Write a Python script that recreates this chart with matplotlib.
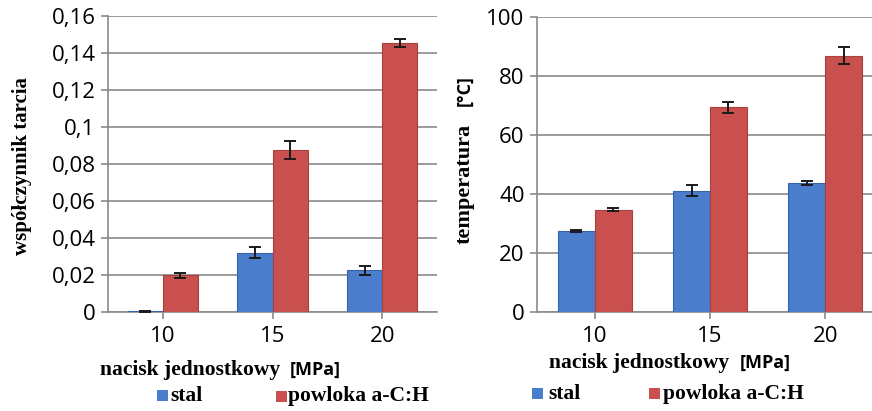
import numpy as np
import matplotlib.pyplot as plt
from matplotlib import rcParams
from matplotlib.patches import Rectangle

rcParams['font.family'] = 'Open Sans'
rcParams['xtick.labelsize'] = 16
rcParams['ytick.labelsize'] = 16

# Dane
cisnienie = ['10', '15', '20']
tarcie_stal = [0.0005, 0.032, 0.0225]
tarcie_stal_err = [0.0003, 0.003, 0.0025]
tarcie_powloka = [0.0198, 0.0875, 0.1452]
tarcie_powloka_err = [0.0015, 0.005, 0.0022]
temp_stal = [27.4, 41.1, 43.7]
temp_stal_err = [0.3, 1.9, 0.8]
temp_powloka = [34.7, 69.4, 86.9]
temp_powloka_err = [0.4, 1.8, 3.0]

BLUE = '#4a7dcc'
BLUE_EDGE = '#3763ad'
RED = '#c9504e'
RED_EDGE = '#a8403e'
GRID = '#8a8a8a'
SERIF = 'Liberation Serif'

W, H = 872, 411


def px(x):
    return x / W


def py(y):
    return 1 - y / H


def comma(v, pos):
    return ('%g' % round(v, 4)).replace('.', ',')


def draw_panel(ax, stal, stal_err, powloka, powloka_err, ymax, step):
    x = np.arange(len(cisnienie))
    w = 0.32
    err = dict(ecolor='#1a1a1a', elinewidth=1.4, capthick=1.4, zorder=4)
    ax.bar(x - w / 2, stal, w, yerr=stal_err, color=BLUE, edgecolor=BLUE_EDGE,
           linewidth=0.8, capsize=4, error_kw=err, zorder=3)
    ax.bar(x + w / 2, powloka, w, yerr=powloka_err, color=RED, edgecolor=RED_EDGE,
           linewidth=0.8, capsize=4, error_kw=err, zorder=3)
    ax.set_xlim(-0.5, len(cisnienie) - 0.5)
    ax.set_ylim(0, ymax)
    ax.set_xticks(x)
    ax.set_xticklabels(cisnienie)
    ax.set_yticks(np.arange(0, ymax + step / 2, step))
    ax.yaxis.set_major_formatter(plt.FuncFormatter(comma))
    ax.yaxis.grid(True, color=GRID, linewidth=1.2)
    ax.set_axisbelow(True)
    for s in ['top', 'right']:
        ax.spines[s].set_visible(False)
    for s in ['left', 'bottom']:
        ax.spines[s].set_color(GRID)
        ax.spines[s].set_linewidth(1.2)
    ax.tick_params(axis='y', length=5, width=1.2, color=GRID, pad=4)
    ax.tick_params(axis='x', length=5, width=1.2, color=GRID, pad=5)


fig = plt.figure(figsize=(W / 100, H / 100), dpi=100)

ax1 = fig.add_axes([px(108), py(312), (437 - 108) / W, (312 - 16) / H])
draw_panel(ax1, tarcie_stal, tarcie_stal_err, tarcie_powloka, tarcie_powloka_err,
           0.16, 0.02)

ax2 = fig.add_axes([px(537), py(312), (883 - 537) / W, (312 - 17) / H])
draw_panel(ax2, temp_stal, temp_stal_err, temp_powloka, temp_powloka_err,
           100, 20)

# opisy osi
bold_serif = dict(family=SERIF, weight='bold', size=15.5)
bold_sans = dict(family='Open Sans', weight='bold', size=13)

fig.text(px(22), py(166), 'współczynnik tarcia', rotation=90,
         ha='center', va='center', family=SERIF, weight='bold', size=15)
fig.text(px(465), py(184), 'temperatura', rotation=90,
         ha='center', va='center', family=SERIF, weight='bold', size=16)
fig.text(px(465), py(91), '[°C]', rotation=90,
         ha='center', va='center', **bold_sans)

fig.text(px(100), py(375), 'nacisk jednostkowy', ha='left', va='baseline',
         **bold_serif)
fig.text(px(290), py(375), '[MPa]', ha='left', va='baseline', **bold_sans)
fig.text(px(549), py(368), 'nacisk jednostkowy', ha='left', va='baseline',
         **bold_serif)
fig.text(px(740), py(368), '[MPa]', ha='left', va='baseline', **bold_sans)

# legendy
legend_items = [
    (157, 390, BLUE, 'stal', 170, 401),
    (276, 391, RED, 'powloka a-C:H', 288, 401),
    (532, 388, BLUE, 'stal', 548, 399),
    (649, 388, RED, 'powloka a-C:H', 663, 399),
]
for sx, sy, col, label, tx, ty in legend_items:
    fig.add_artist(Rectangle((px(sx), py(sy + 11)), 11 / W, 11 / H,
                             transform=fig.transFigure, facecolor=col,
                             edgecolor='none'))
    fig.text(px(tx), py(ty), label, ha='left', va='baseline', **bold_serif)

plt.savefig('out.png', dpi=100)
